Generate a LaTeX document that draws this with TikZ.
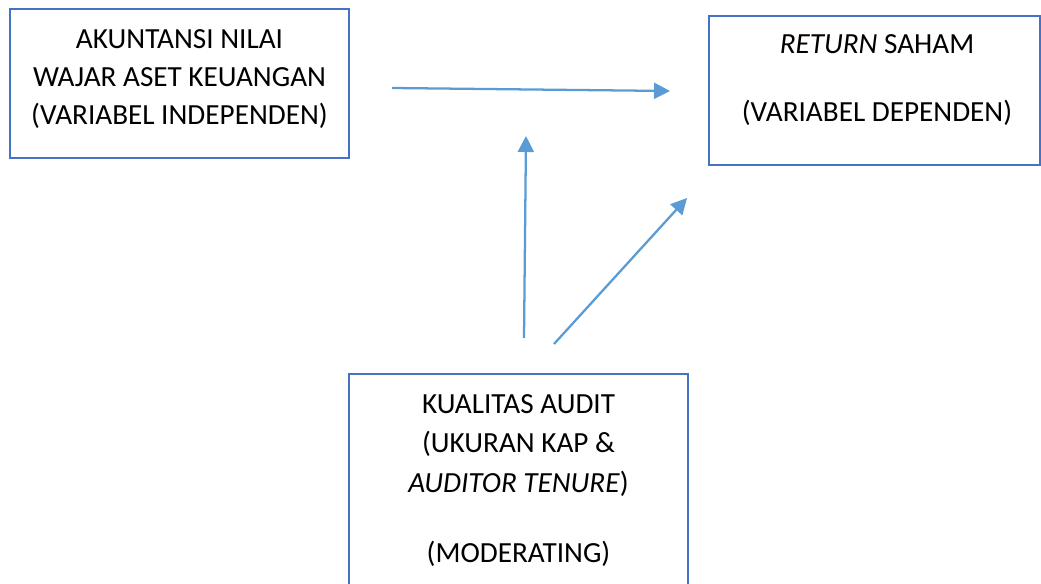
\documentclass[tikz,border=0pt]{standalone}
\usepackage{fontspec}
\setmainfont{Carlito}
\usetikzlibrary{arrows.meta}
\definecolor{boxblue}{HTML}{4472C4}
\definecolor{arrowblue}{HTML}{5B9BD5}
\tikzset{
  box/.style={draw=boxblue, line width=1.5pt, rectangle, inner sep=0pt, outer sep=0pt},
  txt/.style={anchor=base, inner sep=0pt, font=\fontsize{21.9pt}{26pt}\selectfont, text=black},
  conn/.style={draw=arrowblue, line width=1.7pt, -{Triangle[length=12pt,width=12pt]}}
}
\begin{document}
\begin{tikzpicture}[x=0.75pt,y=-0.75pt]
\useasboundingbox (0,0) rectangle (1041,584);
% boxes
\node[box, minimum width=254.25pt, minimum height=111.75pt] (indep) at (179.5,83.5) {};
\node[box, minimum width=248.25pt, minimum height=111.75pt] (dep) at (874.5,90.5) {};
\node[box, minimum width=254.25pt, minimum height=169.5pt] (mod) at (518.5,487) {};
% texts
\node[txt] (i1) at (179.5,49) {AKUNTANSI NILAI};
\node[txt] (i2) at (179.5,87) {WAJAR ASET KEUANGAN};
\node[txt] (i3) at (179.5,125) {(VARIABEL INDEPENDEN)};
\node[txt] (d1) at (877,54) {\textit{RETURN} SAHAM};
\node[txt] (d2) at (877,122) {(VARIABEL DEPENDEN)};
\node[txt] (m1) at (518.5,413) {KUALITAS AUDIT};
\node[txt] (m2) at (518.5,452) {(UKURAN KAP \&};
\node[txt] (m3) at (518.5,492) {\textit{AUDITOR TENURE})};
\node[txt] (m4) at (518.5,562) {(MODERATING)};
% connector endpoints
\coordinate (h0) at (392,88);
\coordinate (h1) at (670,91);
\coordinate (v0) at (524,338);
\coordinate (v1) at (526,136);
\coordinate (g0) at (554,344);
\coordinate (g1) at (687,198);
\draw[conn] (h0) -- (h1);
\draw[conn] (v0) -- (v1);
\draw[conn] (g0) -- (g1);
\end{tikzpicture}
\end{document}
